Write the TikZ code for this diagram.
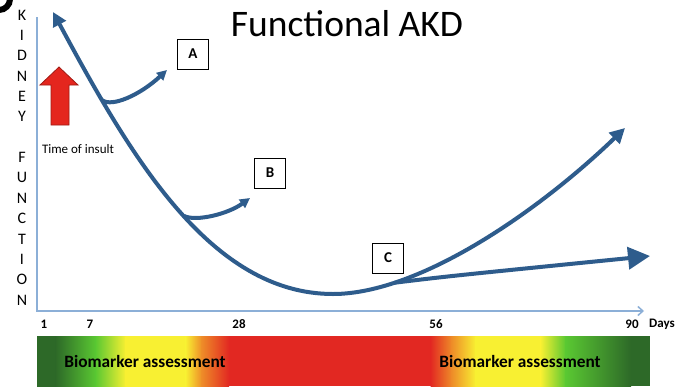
\documentclass[tikz,border=0pt]{standalone}
\usepackage{fontspec}
\setmainfont{Carlito}
\usetikzlibrary{arrows.meta}
\definecolor{curveblue}{RGB}{46,92,140}
\definecolor{axisblue}{RGB}{140,175,215}
\definecolor{insultred}{RGB}{228,38,30}
\definecolor{barred}{RGB}{226,40,34}
\definecolor{barorange}{RGB}{238,140,40}
\definecolor{baryellow}{RGB}{248,240,50}
\definecolor{bargreen}{RGB}{90,200,50}
\definecolor{bardark}{RGB}{45,105,40}

\begin{document}
\begin{tikzpicture}[x=1pt,y=-1pt,
  curve/.style={draw=curveblue,line width=4pt},
  box/.style={draw,fill=white,line width=0.8pt,minimum width=31pt,minimum height=30pt,font=\fontsize{15}{15}\selectfont\bfseries},
  tick/.style={font=\fontsize{13}{13}\selectfont\bfseries},
  bartext/.style={font=\fontsize{17.3}{17.3}\selectfont\bfseries}]
        \fill[white] (0,0) rectangle (700,388);
        \useasboundingbox (0,0) rectangle (700,388);
        \draw[line width=6pt] (-1,-1) circle (11);
        % title and axis name
        \node[font=\fontsize{37.5}{37.5}\selectfont] (title) at (347,24) {Functional AKD};
        \node[align=center,font=\fontsize{16}{20.36}\selectfont] (ylab) at (22,157.5) {K\\I\\D\\N\\E\\Y\\ \\F\\U\\N\\C\\T\\I\\O\\N};
        % axes
        \draw[axisblue,line width=1.5pt,-{Straight Barb[length=5pt,width=9pt]}] (37,17) -- (37,311) -- (644,311);
        \node[tick] (t1) at (44,324) {1};
        \node[tick] (t7) at (90,324) {7};
        \node[tick] (t28) at (239,324) {28};
        \node[tick] (t56) at (436,324) {56};
        \node[tick] (t90) at (632,324) {90};
        \node[tick] (days) at (662,324) {Days};
        % time of insult
        \filldraw[fill=insultred,draw=insultred!70!black,line width=0.8pt] (51,125) -- (51,85) -- (40,85) -- (59,67) -- (78,85) -- (69,85) -- (69,125) -- cycle;
        \node[font=\fontsize{13}{13}\selectfont] (insult) at (78,149) {Time of insult};
        % course of kidney function
        \draw[curve,{Triangle[length=14pt,width=14pt]}-{Triangle[length=15pt,width=15pt]}] (53,12)
            .. controls (130,155) and (210,294) .. coordinate[pos=0.21] (ba) coordinate[pos=0.53] (bb) (333,294)
            .. controls (420,294) and (540,210) .. coordinate[pos=0.22] (bc) (625,128);
        \coordinate (flat) at (650,256);
        \draw[curve,-{Triangle[length=22pt,width=22pt]}] (bc) .. controls (450,276) .. (flat);
        \draw[curve,-{Triangle[length=10pt,width=10pt]}] (ba) .. controls ([shift={(10,7)}]ba) and (140,95) .. (167,70);
        \draw[curve,-{Triangle[length=10pt,width=10pt]}] (bb) .. controls ([shift={(12,6)}]bb) and (228,214) .. (250,198);
        \node[box] (boxA) at (193,54) {A};
        \node[box] (boxB) at (270,173) {B};
        \node[box] (boxC) at (388,258) {C};
        % assessment bar
        \shade[left color=bardark,right color=bardark] (37,336) rectangle (56,386);
        \shade[left color=bardark,right color=bargreen] (55.5,336) rectangle (96,386);
        \shade[left color=bargreen,right color=baryellow] (95.5,336) rectangle (126,386);
        \shade[left color=baryellow,right color=baryellow] (125.5,336) rectangle (186,386);
        \shade[left color=baryellow,right color=barorange] (185.5,336) rectangle (202,386);
        \shade[left color=barorange,right color=barred] (201.5,336) rectangle (229,386);
        \fill[barred] (228.5,336) rectangle (431,386);
        \shade[left color=barred,right color=barorange] (430.5,336) rectangle (452,386);
        \shade[left color=barorange,right color=baryellow] (451.5,336) rectangle (476,386);
        \shade[left color=baryellow,right color=baryellow] (475.5,336) rectangle (541,386);
        \shade[left color=baryellow,right color=bargreen] (540.5,336) rectangle (566,386);
        \shade[left color=bargreen,right color=bardark] (565.5,336) rectangle (631,386);
        \fill[bardark] (630.5,336) rectangle (650,386);
        \node[bartext] (bmleft) at (145,361) {Biomarker assessment};
        \node[bartext] (bmright) at (520,361) {Biomarker assessment};
    \end{tikzpicture}
\end{document}
